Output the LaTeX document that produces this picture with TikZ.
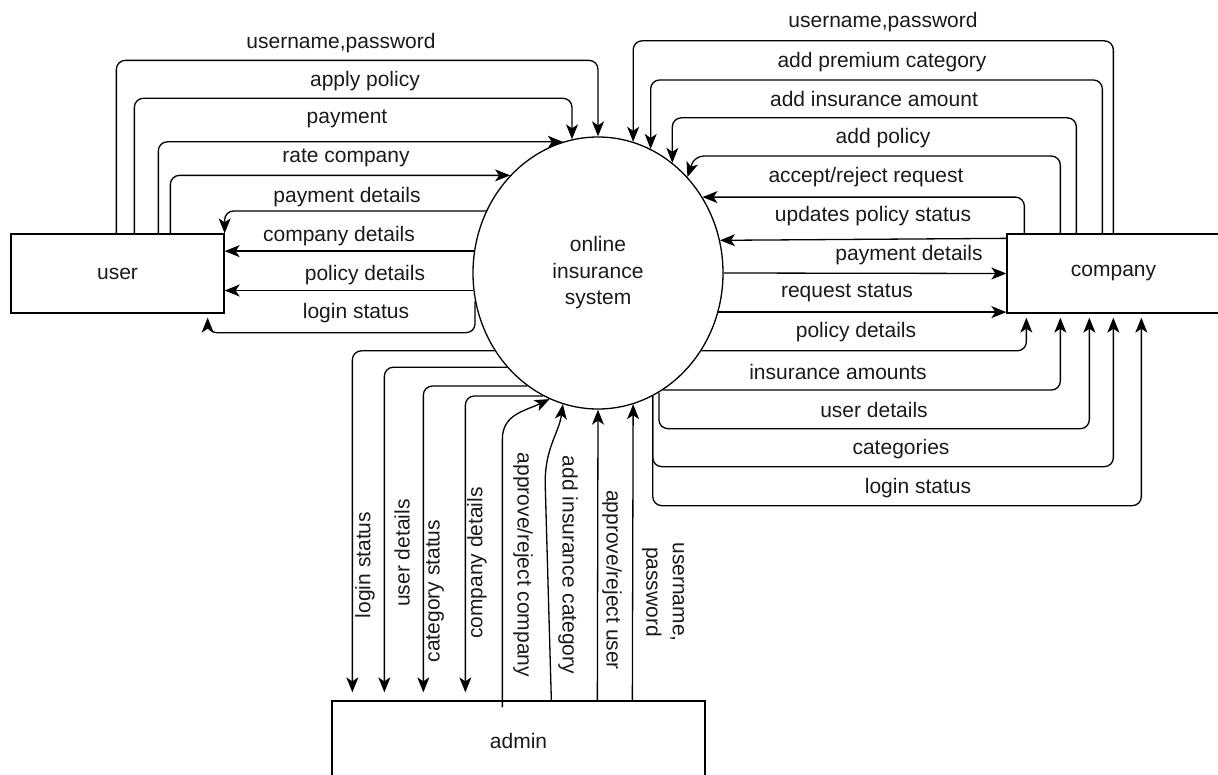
\documentclass[tikz,border=0pt]{standalone}
\usepackage{fontspec}
\setmainfont{Liberation Sans}
\usetikzlibrary{arrows.meta,shapes.geometric}
\definecolor{txt}{HTML}{1A1A1A}
\begin{document}
\begin{tikzpicture}[x=1pt,y=-1pt,
  font=\fontsize{21}{26.5}\selectfont,
  box/.style={draw, line width=1.3pt, inner sep=0pt, text=txt},
  flow/.style={draw, line width=1.3pt, rounded corners=9pt, -{Stealth[length=15pt,width=12pt,inset=4pt]}},
  lbl/.style={inner sep=0pt, anchor=center, text=txt}]
\useasboundingbox (0,0) rectangle (1218,774);
% boxes
\node[box, minimum width=213pt, minimum height=79pt] (user) at (117.5,273.5) {user};
\node[box, minimum width=213pt, minimum height=79pt] (company) at (1113.5,273.5) {company};
\node[box, minimum width=373pt, minimum height=80pt] (admin) at (518.5,741) {admin};
\node[draw, ellipse, line width=1.3pt, minimum width=250pt, minimum height=272pt, inner sep=0pt, align=center, text=txt] (sys) at (598,273) {online\\insurance\\system};

% ---------- user -> system
\draw[flow] ([xshift=106]user.north west) |- ([yshift=76]sys.north) -- (sys.north);
\draw[flow] ([xshift=124]user.north west) |- ([yshift=41]sys.101.5) -- (sys.101.5);
\draw[flow] ([xshift=148]user.north west) |- (sys.105.8);
\draw[flow] ([xshift=160]user.north west) |- (sys.132.7);
% ---------- system -> user
\draw[flow] (sys.151.9) -| (user.north east);
\draw[flow] (sys.170.8) -- (sys.170.8 -| user.east);
\draw[flow] (sys.188.7) -- (sys.188.7 -| user.east);
\draw[flow, shorten >=4pt] (sys.193.6) |- ([xshift=-17,yshift=-19]user.south east) -- ([xshift=-17]user.south east);

% ---------- company -> system
\draw[flow] ([xshift=107]company.north west) |- ([yshift=101]sys.75) -- (sys.75);
\draw[flow] ([xshift=96]company.north west) |- ([yshift=69]sys.67.2) -- (sys.67.2);
\draw[flow] ([xshift=70]company.north west) |- ([yshift=45]sys.56) -- (sys.56);
\draw[flow] ([xshift=54]company.north west) |- ([xshift=7,yshift=21]sys.47) -- (sys.47);
\draw[flow] ([xshift=18]company.north west) |- (sys.36.2);
\draw[flow] ([yshift=-5]company.north west) -- (sys.15.7);
% ---------- system -> company
\draw[flow] (sys.east) -- (company.west);
\draw[flow] (sys.-18.5) -- (sys.-18.5 -| company.west);
\draw[flow, shorten >=4pt] (sys.-37.8) -| ([xshift=20]company.south west);
\draw[flow, shorten >=4pt] (sys.-61.4) -| ([xshift=54]company.south west);
\draw[flow, shorten >=4pt] (sys.-63.8) |- ([xshift=83,yshift=-115]company.south west) -- ([xshift=83]company.south west);
\draw[flow, shorten >=4pt] (sys.-66.7) |- ([xshift=107,yshift=-153]company.south west) -- ([xshift=107]company.south west);
\draw[flow, shorten >=4pt] (sys.-66.7) |- ([xshift=135,yshift=-192]company.south west) -- ([xshift=135]company.south west);

% ---------- system -> admin
\draw[flow, shorten >=8pt] (sys.217.8) -| ([xshift=21]admin.north west);
\draw[flow, shorten >=8pt] (sys.226.7) -| ([xshift=53]admin.north west);
\draw[flow, shorten >=8pt] (sys.238.4) -| ([xshift=92]admin.north west);
\draw[flow, shorten >=8pt] (sys.246.6) -| ([xshift=134]admin.north west);
% ---------- admin -> system
\draw[flow, rounded corners=0pt] ([xshift=171,yshift=-7]admin.north west) -- ([xshift=171,yshift=261]admin.north west) .. controls +(0,-25) and +(-25,12) .. (sys.249.1);
\draw[flow, rounded corners=0pt] ([xshift=220]admin.north west) -- ([xshift=214,yshift=211]admin.north west) .. controls +(-2,-40) and +(-4,30) .. (sys.255);
\draw[flow] ([xshift=266]admin.north west) -- (sys.south);
\draw[flow] ([xshift=301]admin.north west) -- (sys.285);

% ---------- labels (user side)
\node[lbl] (lu1) at (341,43) {username,password};
\node[lbl] (lu2) at (365,81) {apply policy};
\node[lbl] (lu3) at (347,119) {payment};
\node[lbl] (lu4) at (346,158) {rate company};
\node[lbl] (lu5) at (347,197) {payment details};
\node[lbl] (lu6) at (339,236) {company details};
\node[lbl] (lu7) at (365,275) {policy details};
\node[lbl] (lu8) at (356,313) {login status};
% ---------- labels (company side)
\node[lbl] (lc1) at (883,22) {username,password};
\node[lbl] (lc2) at (882,62) {add premium category};
\node[lbl] (lc3) at (874,99) {add insurance amount};
\node[lbl] (lc4) at (883,138) {add policy};
\node[lbl] (lc5) at (866,177) {accept/reject request};
\node[lbl] (lc6) at (873,216) {updates policy status};
\node[lbl] (lc7) at (909,255) {payment details};
\node[lbl] (lc8) at (847,293) {request status};
\node[lbl] (lc9) at (856,332) {policy details};
\node[lbl] (lc10) at (838,372) {insurance amounts};
\node[lbl] (lc11) at (874,410) {user details};
\node[lbl] (lc12) at (901,449) {categories};
\node[lbl] (lc13) at (918,488) {login status};
% ---------- labels (admin side)
\node[lbl, rotate=90] (la1) at (365,565) {login status};
\node[lbl, rotate=90] (la2) at (402,553) {user details};
\node[lbl, rotate=90] (la3) at (435,591) {category status};
\node[lbl, rotate=90] (la4) at (477,563) {company details};
\node[lbl, rotate=-90] (la5) at (523,565) {approve/reject company};
\node[lbl, rotate=-90] (la6) at (568,565) {add insurance category};
\node[lbl, rotate=-90] (la7) at (612,580) {approve/reject user};
\node[lbl, rotate=-90, align=center] (la8) at (663,592) {username,\\password};
\end{tikzpicture}
\end{document}
